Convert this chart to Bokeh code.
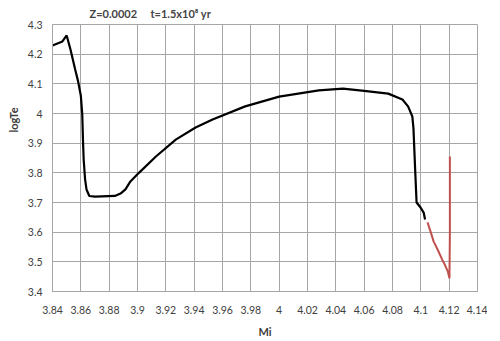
from bokeh.plotting import figure
from bokeh.models import Range1d, FixedTicker, Title
from bokeh.embed import file_html
from bokeh.resources import INLINE

# Data
black_mi = [3.840, 3.847, 3.850, 3.8527, 3.856, 3.858, 3.8600, 3.861, 3.8615, 3.862, 3.863, 3.864, 3.866,
            3.870, 3.884, 3.888, 3.8915, 3.895, 3.901, 3.913, 3.927, 3.941, 3.953, 3.976, 4.000, 4.028,
            4.045, 4.060, 4.077, 4.087, 4.091, 4.094, 4.0948, 4.096, 4.097, 4.0998, 4.102, 4.103]
black_logte = [4.229, 4.243, 4.263, 4.216, 4.148, 4.110, 4.060, 3.997, 3.912, 3.845, 3.778, 3.744, 3.722,
               3.720, 3.722, 3.730, 3.744, 3.771, 3.800, 3.855, 3.912, 3.953, 3.980, 4.024, 4.057, 4.078,
               4.084, 4.076, 4.067, 4.047, 4.024, 3.990, 3.950, 3.810, 3.700, 3.683, 3.666, 3.643]
red_mi = [4.1047, 4.107, 4.109, 4.112, 4.115, 4.117, 4.119, 4.1202, 4.1205, 4.1205]
red_logte = [3.633, 3.600, 3.569, 3.540, 3.508, 3.490, 3.468, 3.445, 3.600, 3.855]

x_ticks = [3.84, 3.86, 3.88, 3.90, 3.92, 3.94, 3.96, 3.98, 4.00, 4.02, 4.04, 4.06, 4.08, 4.10, 4.12, 4.14]
x_tick_labels = ["3.84", "3.86", "3.88", "3.9", "3.92", "3.94", "3.96", "3.98", "4", "4.02", "4.04",
                 "4.06", "4.08", "4.1", "4.12", "4.14"]
y_ticks = [3.4, 3.5, 3.6, 3.7, 3.8, 3.9, 4.0, 4.1, 4.2, 4.3]
y_tick_labels = ["3.4", "3.5", "3.6", "3.7", "3.8", "3.9", "4", "4.1", "4.2", "4.3"]

title_text = "Z=0.0002\u00a0\u00a0\u00a0\u00a0\u00a0t=1.5x10\u2078 yr"
x_label = "Mi"
y_label = "logTe"

FONT = "Lato"
GRID = "#a6a6a6"

p = figure(frame_width=425, frame_height=267, output_backend="svg", toolbar_location=None,
           x_range=Range1d(3.84, 4.14), y_range=Range1d(3.4, 4.3),
           min_border_left=49, min_border_right=10, min_border_top=0, min_border_bottom=10,
           title=title_text)

p.title.text_font = FONT
p.title.text_font_style = "bold"
p.title.text_font_size = "11px"
p.title.offset = 37
p.title.standoff = 9

ytitle = Title(text=y_label, align="right", offset=83, standoff=9,
               text_font=FONT, text_font_style="bold", text_font_size="11px",
               text_color="#404040")
p.add_layout(ytitle, "left")

p.xaxis.ticker = FixedTicker(ticks=x_ticks)
p.yaxis.ticker = FixedTicker(ticks=y_ticks)
p.xaxis.major_label_overrides = dict(zip(x_ticks, x_tick_labels))
p.yaxis.major_label_overrides = dict(zip(y_ticks, y_tick_labels))

for ax in (p.xaxis, p.yaxis):
    ax.major_tick_line_color = None
    ax.minor_tick_line_color = None
    ax.major_tick_out = 0
    ax.major_tick_in = 0
    ax.axis_line_color = GRID
    ax.major_label_text_font = FONT
    ax.major_label_text_font_size = "10.5px"
    ax.major_label_text_color = "#404040"
    ax.axis_label_text_font = FONT
    ax.axis_label_text_font_style = "bold"
    ax.axis_label_text_font_size = "11px"
    ax.axis_label_text_color = "#404040"
p.xaxis.axis_label = x_label
p.xaxis.major_label_standoff = 14
p.yaxis.major_label_standoff = 10
p.xaxis.axis_label_standoff = 8

p.xgrid.grid_line_color = GRID
p.ygrid.grid_line_color = GRID
p.outline_line_color = GRID
p.background_fill_color = "white"
p.border_fill_color = "white"

p.line(black_mi, black_logte, line_color="black", line_width=2.2)
p.line(red_mi, red_logte, line_color="#c0504d", line_width=2)

open("out.html", "w").write(file_html(p, INLINE))
